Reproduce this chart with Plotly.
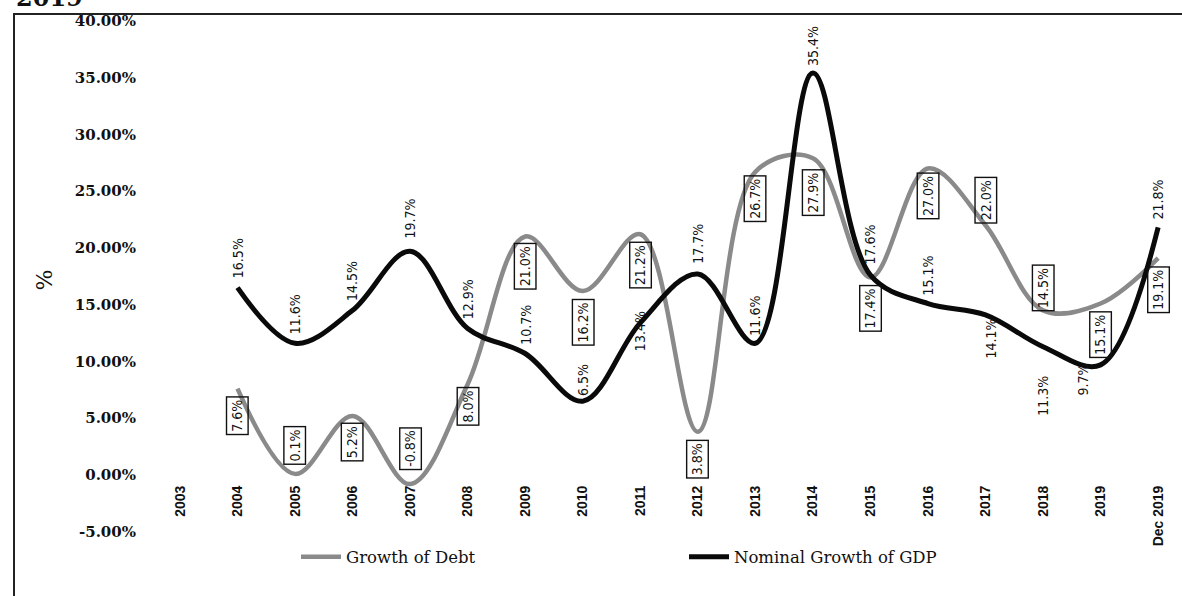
import plotly.graph_objects as go

# ---------------- data ----------------
categories = ["2003", "2004", "2005", "2006", "2007", "2008", "2009", "2010", "2011",
              "2012", "2013", "2014", "2015", "2016", "2017", "2018", "2019", "Dec 2019"]
series_years = categories[1:]
debt_growth = [7.6, 0.1, 5.2, -0.8, 8.0, 21.0, 16.2, 21.2, 3.8, 26.7, 27.9, 17.4,
               27.0, 22.0, 14.5, 15.1, 19.1]
gdp_growth = [16.5, 11.6, 14.5, 19.7, 12.9, 10.7, 6.5, 13.4, 17.7, 11.6, 35.4, 17.6,
              15.1, 14.1, 11.3, 9.7, 21.8]
y_tick_values = [-5, 0, 5, 10, 15, 20, 25, 30, 35, 40]

# category positions on the axis
cat_pos = list(range(len(categories)))
series_pos = [categories.index(c) for c in series_years]
y_tick_text = [f"{v:.2f}%" for v in y_tick_values]

# ---------------- label placement (styling, pixels) ----------------
debt_label_dy = [-27, 28, -26, 35, -22, -30, -31, -31, -27, -27, -34, -31, -27, 25, 22, -31, -32]
gdp_label_dy = [29, 29, 29, 33, 29, 29, 21, -8, 30, 28, 27, 31, 28, -24, -49, -15, 28]
gdp_label_dx = [0, 0, 0, 0, 0, 0, 0, 0, 0, 0, 0, 0, 0, 5, 0, -18, 0]

# ---------------- geometry ----------------
W, H = 1182, 596
ML, MR, MT, MB = 142, 2, 15, 51
y_min, y_max = -6.164, 40.51
x_min, x_max = -0.66, 17.38
pw = W - ML - MR
ph = H - MT - MB

label_font = dict(family="DejaVu Sans Condensed, Liberation Sans Narrow, sans-serif",
                  size=14, color="#111111")
axis_x_font = dict(family="Liberation Sans, Arial, sans-serif", size=14,
                   color="#111111", weight="bold")
serif = "DejaVu Serif, Liberation Serif, serif"

fig = go.Figure()
fig.add_trace(go.Scatter(
    x=series_pos, y=debt_growth, name="Growth of Debt", mode="lines",
    line=dict(color="#8a8a8a", width=4.5, shape="spline", smoothing=1.0),
))
fig.add_trace(go.Scatter(
    x=series_pos, y=gdp_growth, name="Nominal Growth of GDP", mode="lines",
    line=dict(color="#0a0a0a", width=5, shape="spline", smoothing=1.0),
))

annotations = []
for xp, v, dy in zip(series_pos, debt_growth, debt_label_dy):
    annotations.append(dict(
        x=xp, y=v, xref="x", yref="y", text=f"{v:.1f}%", showarrow=False,
        textangle=-90, yshift=dy, font=label_font,
        bordercolor="#111111", borderwidth=1.4, borderpad=2,
    ))
for xp, v, dy, dx in zip(series_pos, gdp_growth, gdp_label_dy, gdp_label_dx):
    annotations.append(dict(
        x=xp, y=v, xref="x", yref="y", text=f"{v:.1f}%", showarrow=False,
        textangle=-90, yshift=dy, xshift=dx, font=label_font,
    ))
# cropped title fragment at the top-left (the reference shows it cut by the page edge)
annotations.append(dict(
    x=(49 - ML) / pw, y=1 + (MT + 2) / ph, xref="paper", yref="paper",
    text="2019", showarrow=False, xanchor="center", yanchor="middle",
    font=dict(family=serif, size=24, color="#111111", weight="bold"),
))

fig.update_layout(
    width=W, height=H,
    margin=dict(l=ML, r=MR, t=MT, b=MB, pad=0),
    paper_bgcolor="white", plot_bgcolor="white",
    showlegend=True,
    legend=dict(
        orientation="h", x=(296 - ML) / pw, xanchor="left",
        y=(MT + ph - 557) / ph, yanchor="middle",
        font=dict(family=serif, size=16.5, color="#111111"),
        entrywidth=333, entrywidthmode="pixels",
        bgcolor="rgba(0,0,0,0)", itemwidth=40,
    ),
    xaxis=dict(
        range=[x_min, x_max], tickvals=cat_pos, ticktext=categories,
        anchor="free", position=(0 - y_min) / (y_max - y_min),
        showline=False, showgrid=False, zeroline=False,
        ticks="outside", ticklen=4, tickcolor="rgba(0,0,0,0)",
        tickangle=-90, automargin=False, tickfont=axis_x_font,
    ),
    yaxis=dict(
        range=[y_min, y_max], tickvals=y_tick_values, ticktext=y_tick_text,
        showline=False, showgrid=False, zeroline=False,
        ticks="outside", ticklen=2, tickcolor="rgba(0,0,0,0)",
        automargin=False,
        tickfont=dict(family=serif, size=15, color="#111111", weight="bold"),
        title=dict(text="%", standoff=16,
                   font=dict(family=serif, size=22, color="#111111")),
    ),
    annotations=annotations,
    shapes=[dict(
        type="rect", xref="paper", yref="paper",
        x0=(14 - ML) / pw, x1=1.2, y0=-0.3, y1=1 + (MT - 14) / ph,
        line=dict(color="#222222", width=2), fillcolor="rgba(0,0,0,0)", layer="below",
    )],
)

fig.write_html(
    "out.html",
    config={"displayModeBar": False},
    post_script="document.body.style.margin='0';document.body.style.overflow='hidden';",
)
